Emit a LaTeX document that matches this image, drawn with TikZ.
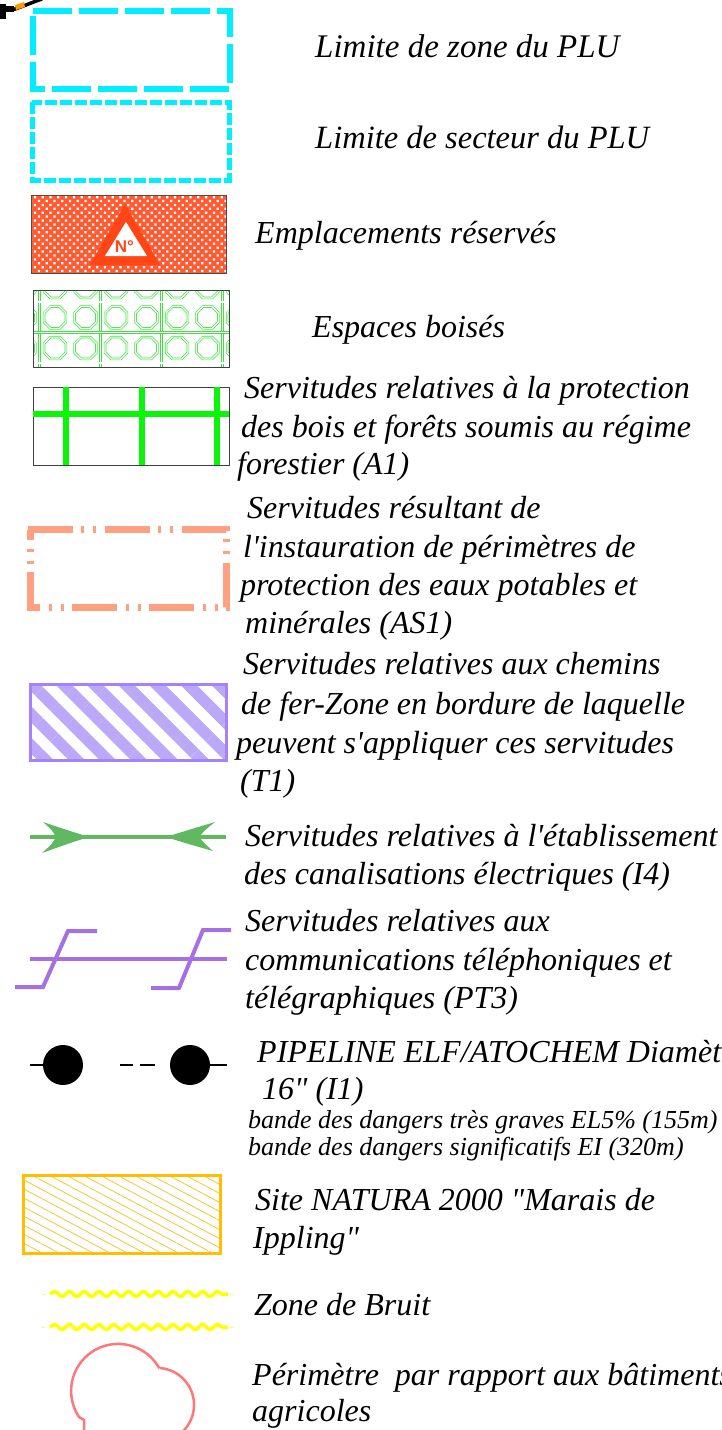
\documentclass[tikz,border=0pt]{standalone}
\usepackage{fontspec}
\newfontfamily\lsf{Liberation Serif}
\newfontfamily\lss{Liberation Sans}
\usetikzlibrary{patterns.meta,decorations.pathmorphing}
\definecolor{cyanL}{RGB}{0,238,255}
\definecolor{orangeR}{RGB}{255,70,20}
\definecolor{orangeF}{RGB}{255,90,50}
\definecolor{salmon}{RGB}{255,160,128}
\definecolor{lav}{RGB}{165,130,245}
\definecolor{lavF}{RGB}{188,168,248}
\definecolor{greenI}{RGB}{96,184,96}
\definecolor{purpleT}{RGB}{165,112,225}
\definecolor{gold}{RGB}{255,190,0}
\definecolor{goldL}{RGB}{248,200,70}
\definecolor{yellowB}{RGB}{255,255,0}
\definecolor{pinkR}{RGB}{255,120,120}
\definecolor{boisG}{RGB}{60,228,60}
\definecolor{aG}{RGB}{10,245,10}
\begin{document}
\begin{tikzpicture}[x=1pt,y=-1pt,
  lab/.style={anchor=base west, inner sep=0pt, font=\lsf\itshape\fontsize{32}{38}\selectfont},
  smalllab/.style={anchor=base west, inner sep=0pt, font=\lsf\itshape\fontsize{26}{27}\selectfont},
  boisline/.style={draw=boisG, line width=0.7pt, double=white, double distance=1.2pt}]
\useasboundingbox (0,0) rectangle (722,1430);
\clip (0,0) rectangle (722,1430);
% top-left fragment
\fill[black] (0,4) rectangle (6,19);
\fill[black] (0,6) rectangle (14,12);
\draw[black, line width=3.5pt] (12,10) .. controls (22,7) and (30,3) .. (42,-1);
\fill[orange!80!yellow] (15,5) -- (24,2) -- (25,7) -- (16,10) -- cycle;
% 1 zone
\draw[cyanL, line width=5.5pt, dash pattern=on 39pt off 7pt] (33,11) -- (230,11) -- (230,89) -- (33,89) -- cycle;
\node[lab, font=\lsf\itshape\fontsize{33}{38}\selectfont] (t1) at (315,57) {Limite de zone du PLU};
% 2 secteur
\draw[cyanL, line width=5pt, dash pattern=on 12pt off 3pt] (32,102) rectangle (229,180);
\node[lab, font=\lsf\itshape\fontsize{32.5}{38}\selectfont] (t2) at (315,148) {Limite de secteur du PLU};
% 3 emplacements
\fill[orangeF] (31,195) rectangle (226,273);
\fill[pattern={Dots[radius=1.6pt,distance=5.5pt,angle=45]}, pattern color=white] (31,195) rectangle (226,273);
\draw[black!70, line width=0.8pt] (31,195) rectangle (226,273);
\fill[orangeR] (125,204) -- (160,265) -- (90,265) -- cycle;
\fill[white] (126,222) -- (147,256) -- (105,256) -- cycle;
\node[font=\lss\bfseries\fontsize{17}{17}\selectfont, text=orangeR, inner sep=0pt] (nlab) at (124.5,247) {N°};
\node[lab] (t3) at (255,243) {Emplacements réservés};
% 4 espaces boisés
\begin{scope}
\clip (33,290) rectangle (229,367);
\foreach \x in {39.5,70,100.5,131,161.5,192,222.5} \draw[boisline] (\x,285) -- (\x,372);
\foreach \y in {271.5,302,332.5,363} \draw[boisline] (28,\y) -- (234,\y);
\foreach \x in {24.5,55,85.5,116,146.5,177,207.5,238}
  \foreach \y in {287,317.5,348}
    \draw[boisline, shift={(\x,\y)}] (22.5:11.8) -- (67.5:11.8) -- (112.5:11.8) -- (157.5:11.8) -- (202.5:11.8) -- (247.5:11.8) -- (292.5:11.8) -- (337.5:11.8) -- cycle;
\end{scope}
\draw[black!75, line width=0.9pt] (33,290) rectangle (229,367);
\node[lab] (t4) at (312,337) {Espaces boisés};
% 5 A1
\draw[black!75, line width=1pt] (33,387) rectangle (229,465);
\draw[aG, line width=6pt] (33,414) -- (229,414);
\foreach \x in {66,142,217} \draw[aG, line width=6.5pt] (\x,387) -- (\x,465);
\node[lab] (t5a) at (244,398) {Servitudes relatives à la protection};
\node[lab] (t5b) at (241,437) {des bois et forêts soumis au régime};
\node[lab] (t5c) at (237,474) {forestier (A1)};
% 6 AS1
\draw[salmon, line width=7pt, dash pattern=on 45pt off 8pt on 3pt off 9pt on 3pt off 9pt] (28,529.5) -- (226,529.5) -- (226,607) -- (30,607) -- (30,529.5);
\node[lab] (t6a) at (247,518) {Servitudes résultant de};
\node[lab] (t6b) at (243,557) {l'instauration de périmètres de};
\node[lab] (t6c) at (240,595) {protection des eaux potables et};
\node[lab] (t6d) at (245,633) {minérales (AS1)};
% 7 T1
\begin{scope}
\clip (30,684) rectangle (226,760);
\fill[pattern={Lines[angle=-45,distance=22pt,line width=11.5pt]}, pattern color=lavF] (30,684) rectangle (226,760);
\end{scope}
\draw[lav, line width=3pt] (30,684) rectangle (226,760);
\node[lab] (t7a) at (243,674) {Servitudes relatives aux chemins};
\node[lab] (t7b) at (241,714) {de fer-Zone en bordure de laquelle};
\node[lab] (t7c) at (236,753) {peuvent s'appliquer ces servitudes};
\node[lab] (t7d) at (240,791) {(T1)};
% 8 I4
\draw[greenI, line width=3.5pt] (30,837) -- (226,837);
\fill[greenI] (89,837) .. controls (70,831) .. (43,822) .. controls (52,830) .. (56,837) .. controls (52,844) .. (42,853) .. controls (70,843) .. cycle;
\fill[greenI] (166,837) .. controls (185,831) .. (215,822) .. controls (205,830) .. (199,837) .. controls (205,844) .. (213,851) .. controls (185,843) .. cycle;
\node[lab] (t8a) at (245,846) {Servitudes relatives à l'établissement};
\node[lab] (t8b) at (244,884) {des canalisations électriques (I4)};
% 9 PT3
\draw[purpleT, line width=4pt] (30,959) -- (227,959);
\draw[purpleT, line width=4pt] (15,987) -- (43,987) -- (68,931) -- (97,931);
\draw[purpleT, line width=4pt] (151,988) -- (179,988) -- (203,930) -- (231,930);
\node[lab] (t9a) at (245,931) {Servitudes relatives aux};
\node[lab] (t9b) at (245,970) {communications téléphoniques et};
\node[lab] (t9c) at (245,1008) {télégraphiques (PT3)};
% 10 pipeline
\draw[black, line width=2pt] (30,1065) -- (45,1065);
\fill[black] (63,1065) circle (20);
\draw[black, line width=2pt] (120,1065) -- (133,1065);
\draw[black, line width=2pt] (140,1065) -- (155,1065);
\fill[black] (190,1065) circle (20);
\draw[black, line width=2pt] (208,1065) -- (227,1065);
\node[lab] (t10a) at (257,1062) {PIPELINE ELF/ATOCHEM Diamètre};
\node[lab] (t10b) at (262,1099) {16" (I1)};
\node[smalllab] (t10c) at (248,1128) {bande des dangers très graves EL5\% (155m)};
\node[smalllab] (t10d) at (248,1155) {bande des dangers significatifs EI (320m)};
% 11 natura
\begin{scope}
\clip (23,1175) rectangle (220,1253);
\fill[pattern={Lines[angle=-28,distance=8pt,line width=0.9pt]}, pattern color=goldL] (23,1175) rectangle (220,1253);
\end{scope}
\draw[gold, line width=3pt] (23,1175) rectangle (220,1253);
\node[lab] (t11a) at (255,1210) {Site NATURA 2000 "Marais de};
\node[lab] (t11b) at (253,1248) {Ippling"};
% 12 bruit
\foreach \y in {1294,1327} {
  \draw[yellowB, line width=3.5pt, decorate, decoration={snake, segment length=14.8pt, amplitude=2.5pt}] (50,\y) -- (228,\y);
  \draw[yellowB!70, line width=1pt] (42,\y) -- (45,\y);
  \draw[yellowB!70, line width=1pt] (230,\y) -- (234,\y);
}
\node[lab] (t12) at (254,1315) {Zone de Bruit};
% 13 perimetre
\draw[pinkR, line width=2.5pt] (84,1435) -- (84,1420) -- (79,1417)
  arc[start angle=146.3, end angle=331.3, radius=47];
\draw[pinkR, line width=2.5pt] (160,1368) arc[start angle=274.6, end angle=450, radius=37];
\node[lab] (t13a) at (252,1385) {Périmètre\ \ par rapport aux bâtiments};
\node[lab] (t13b) at (252,1421) {agricoles};
\end{tikzpicture}
\end{document}
